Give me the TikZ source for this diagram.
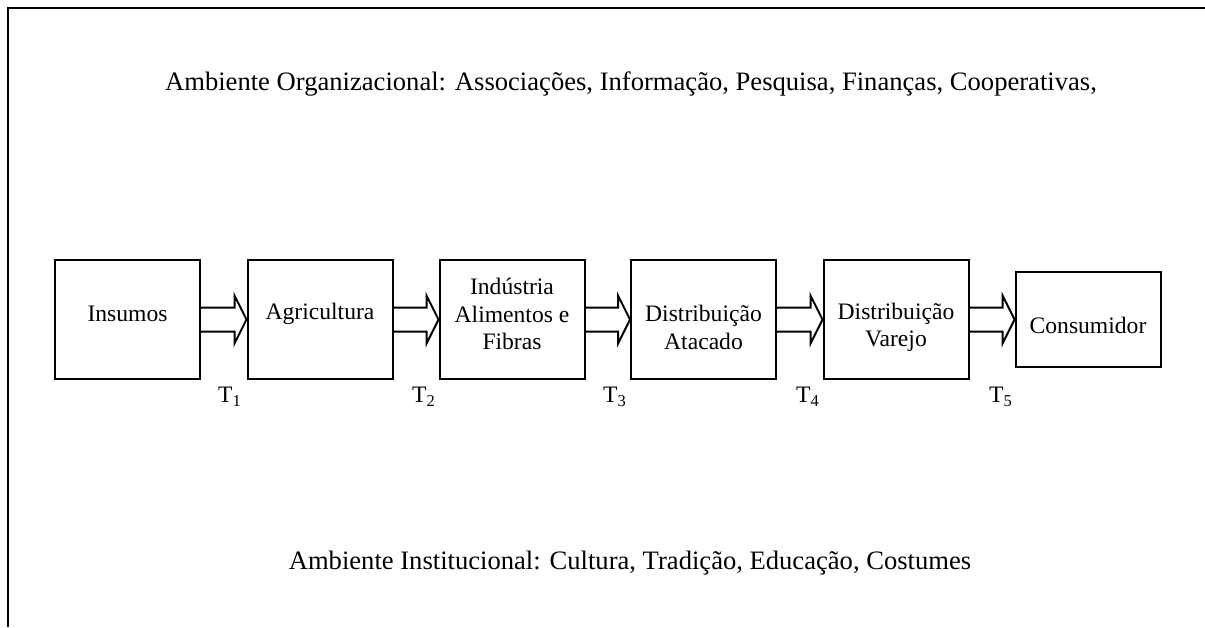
\documentclass[tikz,border=0pt]{standalone}
\usepackage{fontspec}
\setmainfont{Liberation Serif}
\usetikzlibrary{calc}
\tikzset{
  stagebox/.style={draw, line width=1pt, minimum width=72.5pt, minimum height=59.5pt, inner sep=0pt},
  txt/.style={font=\fontsize{11.8}{13.6}\selectfont, align=center, inner sep=0pt},
  envtxt/.style={font=\fontsize{13.3}{15}\selectfont, align=center, inner sep=0pt},
  barrow/.style={draw, line width=1pt, line join=miter},
  frame/.style={line width=1pt}
}
\newcommand{\blockarrow}[2]{%
  \draw[barrow] ($(#1.east)+(0,-12)$) -- ($(#2.west)+(-12,-12)$) -- ($(#2.west)+(-12,-24)$)
    -- (#2.west) -- ($(#2.west)+(-12,24)$) -- ($(#2.west)+(-12,12)$) -- ($(#1.east)+(0,12)$);}
\begin{document}
\begin{tikzpicture}[x=0.5pt,y=-0.5pt]
\useasboundingbox (0,0) rectangle (1205,627);
\draw[frame] (7.5,627) -- (7.5,7.5) -- (1205,7.5);

\node[envtxt] (org) at (631,84) {Ambiente Organizacional: Associações, Informação, Pesquisa, Finanças, Cooperativas,};
\node[envtxt] (inst) at (630,563) {Ambiente Institucional: Cultura, Tradição, Educação, Costumes};

\node[stagebox] (ins) at (127.5,319.5) {};
\node[stagebox] (agr) at (320,319.5) {};
\node[stagebox] (ind) at (512,319.5) {};
\node[stagebox] (ata) at (703.5,319.5) {};
\node[stagebox] (var) at (896,319.5) {};
\node[stagebox, minimum height=47.5pt] (con) at (1088,319.5) {};

\node[txt] (insT) at (127.5,314) {Insumos};
\node[txt] (agrT) at (320,314) {Agricultura};
\node[txt] (indT) at (512,314) {Indústria\\Alimentos e\\Fibras};
\node[txt] (ataT) at (703.5,327.5) {Distribuição\\Atacado};
\node[txt] (varT) at (896,327.5) {Distribuição\\Varejo};
\node[txt] (conT) at (1088,325) {Consumidor};

\blockarrow{ins}{agr}
\blockarrow{agr}{ind}
\blockarrow{ind}{ata}
\blockarrow{ata}{var}
\blockarrow{var}{con}

\node[txt] (t1) at (230,397) {T\textsubscript{1}};
\node[txt] (t2) at (424,397) {T\textsubscript{2}};
\node[txt] (t3) at (615,397) {T\textsubscript{3}};
\node[txt] (t4) at (808,397) {T\textsubscript{4}};
\node[txt] (t5) at (1001,397) {T\textsubscript{5}};
\end{tikzpicture}
\end{document}
